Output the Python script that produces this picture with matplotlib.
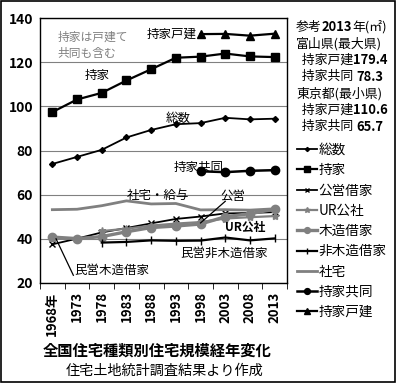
import matplotlib
matplotlib.use('Agg')
import matplotlib.pyplot as plt
from matplotlib.patches import Rectangle
import numpy as np

plt.rcParams['font.family'] = ['Noto Sans CJK JP', 'DejaVu Sans']

# data (m2 per dwelling)
years = ['1968年', '1973', '1978', '1983', '1988', '1993', '1998', '2003', '2008', '2013']
total = [73.9, 77.1, 80.3, 85.9, 89.3, 91.9, 92.4, 94.8, 94.1, 94.4]
owned = [97.4, 103.1, 106.1, 111.7, 116.8, 122.0, 122.5, 123.9, 122.6, 122.3]
public = [37.5, 40.1, 42.9, 44.9, 47.0, 49.0, 50.1, 51.5, 51.7, 52.1]
ur = [np.nan, np.nan, 43.5, 44.6, 46.0, 46.9, 47.6, 49.2, 49.8, 50.3]
wood_rent = [40.8, 40.1, 41.0, 43.2, 45.1, 45.8, 46.7, 50.0, 51.4, 53.4]
nonwood_rent = [np.nan, np.nan, 38.3, 38.6, 39.3, 39.1, 39.2, 40.6, 39.3, 40.2]
company = [53.2, 53.4, 55.0, 57.2, 55.8, 56.0, 53.1, 53.2, 53.0, 53.6]
owned_apt = [np.nan] * 6 + [70.6, 70.2, 70.8, 71.1]
owned_house = [np.nan] * 6 + [132.7, 132.8, 132.0, 132.9]

ref_lines = [('参考', '2013', '年(㎡)'),
             ('富山県(最大県)', '', ''),
             ('  持家戸建', '179.4', ''),
             ('  持家共同 ', '78.3', ''),
             ('東京都(最小県)', '', ''),
             ('  持家戸建', '110.6', ''),
             ('  持家共同 ', '65.7', '')]

gray = '#808080'
fig = plt.figure(figsize=(3.96, 3.83), dpi=100)
ax = fig.add_axes([40 / 396, 1 - 283 / 383, 247 / 396, 265 / 383])
x = np.arange(len(years))

ax.plot(x, total, color='black', lw=1.3, marker='D', ms=3, label='総数')
ax.plot(x, owned, color='black', lw=1.6, marker='s', ms=6, label='持家')
ax.plot(x, public, color='black', lw=1.3, marker='x', ms=5, label='公営借家')
ax.plot(x, ur, color=gray, lw=1.6, marker='*', ms=6, label='UR公社')
ax.plot(x, wood_rent, color=gray, lw=2.4, marker='o', ms=6, label='木造借家')
ax.plot(x, nonwood_rent, color='black', lw=1.6, marker='|', ms=6, label='非木造借家')
ax.plot(x, company, color=gray, lw=2.0, label='社宅')
ax.plot(x, owned_apt, color='black', lw=1.8, marker='o', ms=6, label='持家共同')
ax.plot(x, owned_house, color='black', lw=1.6, marker='^', ms=6, label='持家戸建')

ax.set_xlim(-0.5, 9.5)
ax.set_ylim(20, 140)
ax.set_yticks(range(20, 141, 20))
ax.yaxis.grid(True, color=gray, lw=0.8)
ax.set_axisbelow(True)
ax.tick_params(axis='y', length=0, labelsize=10, pad=5)
for lab in ax.get_yticklabels():
    lab.set_fontweight('bold')
ax.set_xticks(x)
ax.set_xticklabels(years, rotation=90, fontsize=9.5, fontweight='bold')
ax.set_xticks(np.arange(-0.5, 10, 1), minor=True)
ax.tick_params(axis='x', which='major', length=0, pad=6)
ax.tick_params(axis='x', which='minor', length=4, direction='out')
for s in ax.spines.values():
    s.set_color('black')
    s.set_linewidth(1.0)

# annotations inside the plot
ax.text(0.2, 127.5, '持家は戸建て\n共同も含む', color=gray, fontsize=8.5, va='center', linespacing=1.3)
ax.text(1.3, 114, '持家', fontsize=9, va='center')
ax.text(3.8, 132.5, '持家戸建', fontsize=9, va='center')
ax.text(4.6, 94.5, '総数', fontsize=9, va='center')
ax.text(4.9, 72.5, '持家共同', fontsize=9, va='center')
ax.text(3.0, 59.5, '社宅・給与', fontsize=9, va='center')
ax.text(6.8, 59, '公営', fontsize=9, va='center')
ax.plot([7.0, 6.0], [57.0, 47.2], color='black', lw=0.9)
ax.text(7.0, 45, 'UR公社', fontsize=8.5, va='center', fontweight='bold')
ax.text(5.2, 33.5, '民営非木造借家', fontsize=9, va='center')
ax.text(0.9, 25.5, '民営木造借家', fontsize=9, va='center')
ax.plot([0.85, 0.15], [23.5, 40.0], color='black', lw=0.9)

# reference numbers at top right
y0 = 1 - 27 / 383
for i, (a, b, c) in enumerate(ref_lines):
    yy = y0 - i * 16.6 / 383
    t = fig.text(296 / 396, yy, a, fontsize=9.3, va='center')
    if b or c:
        fig.canvas.draw()
        bb = t.get_window_extent()
        t2 = fig.text(bb.x1 / 396, yy, b, fontsize=9.3, va='center', fontweight='bold')
        if c:
            fig.canvas.draw()
            bb2 = t2.get_window_extent()
            fig.text(bb2.x1 / 396, yy, c, fontsize=9.3, va='center')

handles, labels = ax.get_legend_handles_labels()
fig.legend(handles, labels, loc='upper left', bbox_to_anchor=(297 / 396, 1 - 143 / 383),
           frameon=False, fontsize=9.8, handlelength=1.5, handletextpad=0.1,
           labelspacing=0.46, markerscale=0.7, borderpad=0, borderaxespad=0)

fig.text(157 / 396, 1 - 351 / 383, '全国住宅種類別住宅規模経年変化', fontsize=11,
         fontweight='bold', ha='center', va='center')
fig.text(165 / 396, 1 - 371 / 383, '住宅土地統計調査結果より作成', fontsize=10.2,
         ha='center', va='center')

fig.add_artist(Rectangle((0.002, 0.002), 0.996, 0.996, transform=fig.transFigure,
                         fill=False, edgecolor='black', lw=1.2))

fig.savefig('out.png', dpi=100)
